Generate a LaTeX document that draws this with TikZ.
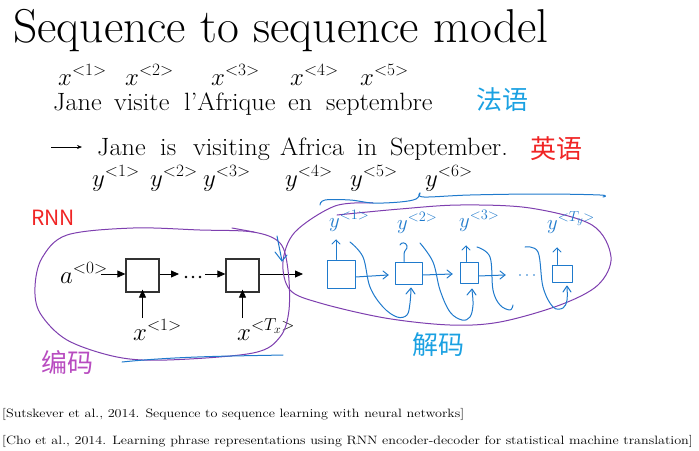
\documentclass[tikz,border=0pt]{standalone}
\usepackage{fontspec}
\newfontfamily\cjk{Noto Sans CJK SC}
\usetikzlibrary{arrows.meta}
\definecolor{hpurple}{HTML}{7E3FAF}
\definecolor{hblue}{HTML}{1F7ACC}
\definecolor{lblue}{HTML}{1BA1E2}
\definecolor{lred}{HTML}{F02525}
\definecolor{lmag}{HTML}{B84CC0}
\newcommand\hsx[1]{\scalebox{1.05}[1]{#1}}
\tikzset{
  word/.style={anchor=base west, inner sep=0pt, font=\fontsize{25}{25}\selectfont},
  lab/.style={anchor=base west, inner sep=0pt, font=\fontsize{23}{23}\selectfont},
  cell/.style={draw=black!80, line width=1.3pt, minimum width=33pt, minimum height=33pt, inner sep=0pt},
  arr/.style={-{Triangle[length=8pt,width=7pt]}, line width=0.8pt},
  hand/.style={hblue, line width=1pt, line cap=round, line join=round},
  loop/.style={hpurple, line width=1pt, line cap=round},
  cite/.style={anchor=base west, inner sep=0pt, font=\fontsize{12.1}{12.1}\selectfont},
  hlab/.style={anchor=base west, inner sep=0pt, text=hblue, font=\fontsize{22}{22}\selectfont},
  hbox/.style={hand, draw, inner sep=0pt},
  cjklab/.style={anchor=center, inner sep=0pt, font=\cjk\fontsize{26}{26}\selectfont},
}
\begin{document}
\begin{tikzpicture}[x=1pt,y=-1pt]
\useasboundingbox (0,0) rectangle (699,450);
% title
\node[anchor=base west, inner sep=0pt, font=\fontsize{47.5}{47.5}\selectfont] (title) at (13,42) {Sequence to sequence model};
% french
\node[lab] (x1) at (58,85) {$x^{<1>}$};
\node[lab] (x2) at (125,85) {$x^{<2>}$};
\node[lab] (x3) at (211,85) {$x^{<3>}$};
\node[lab] (x4) at (290,85) {$x^{<4>}$};
\node[lab] (x5) at (360,85) {$x^{<5>}$};
\node[word] (f1) at (53,110) {\hsx{Jane}};
\node[word] (f2) at (114,110) {\hsx{visite}};
\node[word] (f3) at (184,110) {\hsx{l'Afrique}};
\node[word] (f4) at (288,110) {\hsx{en}};
\node[word] (f5) at (326,110) {\hsx{septembre}};
\node[cjklab, text=lblue] (fr) at (502,100) {法语};
% english
\coordinate (a0) at (51,147);
\coordinate (a1) at (82,147);
\draw[-{Stealth[length=5pt,width=4pt]}, line width=0.6pt] (a0) -- (a1);
\node[word] (e1) at (97,155) {\hsx{Jane}};
\node[word] (e2) at (160,155) {\hsx{is}};
\node[word] (e3) at (193,155) {\hsx{visiting}};
\node[word] (e4) at (280,155) {\hsx{Africa}};
\node[word] (e5) at (357,155) {\hsx{in}};
\node[word] (e6) at (390,155) {\hsx{September.}};
\node[cjklab, text=lred] (en) at (556,149) {英语};
\node[lab] (y1) at (92,186) {$y^{<1>}$};
\node[lab] (y2) at (150,186) {$y^{<2>}$};
\node[lab] (y3) at (203,186) {$y^{<3>}$};
\node[lab] (y4) at (285,186) {$y^{<4>}$};
\node[lab] (y5) at (350,186) {$y^{<5>}$};
\node[lab] (y6) at (425,186) {$y^{<6>}$};
% RNN label
\node[anchor=center, inner sep=0pt, text=lred, font=\cjk\fontsize{21}{21}\selectfont] (rnn) at (53,218) {RNN};
% encoder
\node[cell] (c1) at (142.5,275.5) {};
\node[cell] (c2) at (242.5,275.5) {};
\node[lab] (a0lab) at (60,283) {$a^{<0>}$};
\coordinate (ain) at (101,274);
\draw[arr] (ain) -- (ain -| c1.west);
\coordinate (d0) at (179,274);
\coordinate (d1) at (205,274);
\draw[arr] (c1.east |- d0) -- (d0);
\foreach \dx in {186,193,200} \fill (\dx,277) circle (1.4pt);
\draw[arr] (d1) -- (d1 -| c2.west);
\coordinate (out) at (303,274);
\draw[arr] (c2.east |- out) -- (out);
\node[lab] (xin1) at (133,340) {$x^{<1>}$};
\node[lab] (xin2) at (237,340) {$x^{<T_x>}$};
\coordinate (u1) at (142.5,318);
\coordinate (u2) at (242.5,318);
\draw[arr] (u1) -- ([yshift=3pt]c1.south);
\draw[arr] (u2) -- ([yshift=3pt]c2.south);
% encoder loop
\draw[loop] plot[smooth cycle, tension=0.55] coordinates {(67,235) (133,228) (200,230) (253,232) (280,243) (288,270) (289,310) (280,337) (253,353) (167,360) (117,357) (67,340) (40,313) (35,287) (42,258)};
\draw[loop] (232,228) -- (254,232);
\draw[hand] (122,362) .. controls (180,356) and (240,356) .. (283,355);
\node[cjklab, text=lmag] (enc) at (67,362) {编码};
% decoder loop
\draw[loop] plot[smooth, tension=0.55] coordinates {(337,215) (400,209) (460,205) (530,208) (592,225) (611,257) (598,285) (560,305) (500,322) (450,325) (385,318) (320,303) (290,290) (283,262) (295,232) (335,206) (373,203)};
% decoder handwriting: brace
\draw[hand] plot[smooth, tension=0.6] coordinates {(320,205) (325,200) (350,200) (373,203) (400,202) (416,199) (420,193)};
\draw[hand] plot[smooth, tension=0.6] coordinates {(420,193) (424,197) (470,195) (540,194) (600,195) (603,197)};
\draw[hand] (277,236) -- (282,261);
\draw[hand] (275,252) -- (282,261) -- (287,255);
% boxes
\node[hbox, minimum width=28pt, minimum height=28pt] (b1) at (341,274) {};
\node[hbox, minimum width=27pt, minimum height=22pt] (b2) at (408.5,273) {};
\node[hbox, minimum width=18pt, minimum height=21pt] (b3) at (469,272.5) {};
\node[hbox, minimum width=20pt, minimum height=17pt] (b4) at (562,273.5) {};
% output labels
\node[hlab] (o1) at (329,227) {$y^{<1>}$};
\node[hlab] (o2) at (397,229) {$y^{<2>}$};
\node[hlab] (o3) at (459,227) {$y^{<3>}$};
\node[hlab] (o4) at (547,229) {$y^{<T_y>}$};
% up arrows
\draw[hand] (b1.north -| 336,0) -- (336,240);
\draw[hand] (332,244) -- (336,240) -- (340,244);
\draw[hand] (b2.north -| 404,0) -- (404,254) .. controls (404,250) and (408,249) .. (407,246) .. controls (406,242) and (401,242) .. (400,245);
\draw[hand] (b3.north -| 466,0) -- (466,246);
\draw[hand] (462,250) -- (466,246) -- (470,250);
\draw[hand] (b4.north -| 557,0) -- (557,248);
\draw[hand] (553,252) -- (557,248) -- (561,252);
% horizontal arrows
\coordinate (h1) at (388,275);
\coordinate (h2) at (452,274);
\coordinate (h3) at (505,275);
\draw[hand] (b1.east |- 0,277) -- (h1);
\draw[hand] (383,271) -- (h1) -- (383,279);
\draw[hand] (b2.east |- 0,275) -- (h2);
\draw[hand] (447,270) -- (h2) -- (447,278);
\draw[hand] (b3.east |- 0,276) -- (h3);
\draw[hand] (500,271) -- (h3) -- (500,279);
\foreach \dx in {520,527,534} \fill[hblue] (\dx,275) circle (0.9pt);
% loops
\draw[hand] plot[smooth, tension=0.6] coordinates {(350,242) (363,257) (370,287) (383,307) (397,317) (407,315) (410,303) (411,289)};
\draw[hand] (406,294) -- (411,288) -- (415,294);
\draw[hand] plot[smooth, tension=0.6] coordinates {(420,243) (433,262) (440,290) (450,312) (462,320) (470,317) (473,305) (472,290)};
\draw[hand] (467,295) -- (472,289) -- (476,295);
\draw[hand] plot[smooth, tension=0.6] coordinates {(477,247) (490,257) (493,290) (500,305) (510,310) (513,305)};
\draw[hand] plot[smooth, tension=0.6] coordinates {(525,247) (538,252) (543,287) (553,307) (563,308) (567,300) (567,287)};
\draw[hand] (563,292) -- (567,286) -- (571,292);
\node[cjklab, text=lblue] (dec) at (438,345) {解码};
% citations
\node[cite] (r1) at (2,417) {\scalebox{1.17}[1]{[Sutskever et al., 2014. Sequence to sequence learning with neural networks]}};
\node[cite] (r2) at (2,444) {\scalebox{1.17}[1]{[Cho et al., 2014. Learning phrase representations using RNN encoder-decoder for statistical machine translation]}};
\end{tikzpicture}
\end{document}
